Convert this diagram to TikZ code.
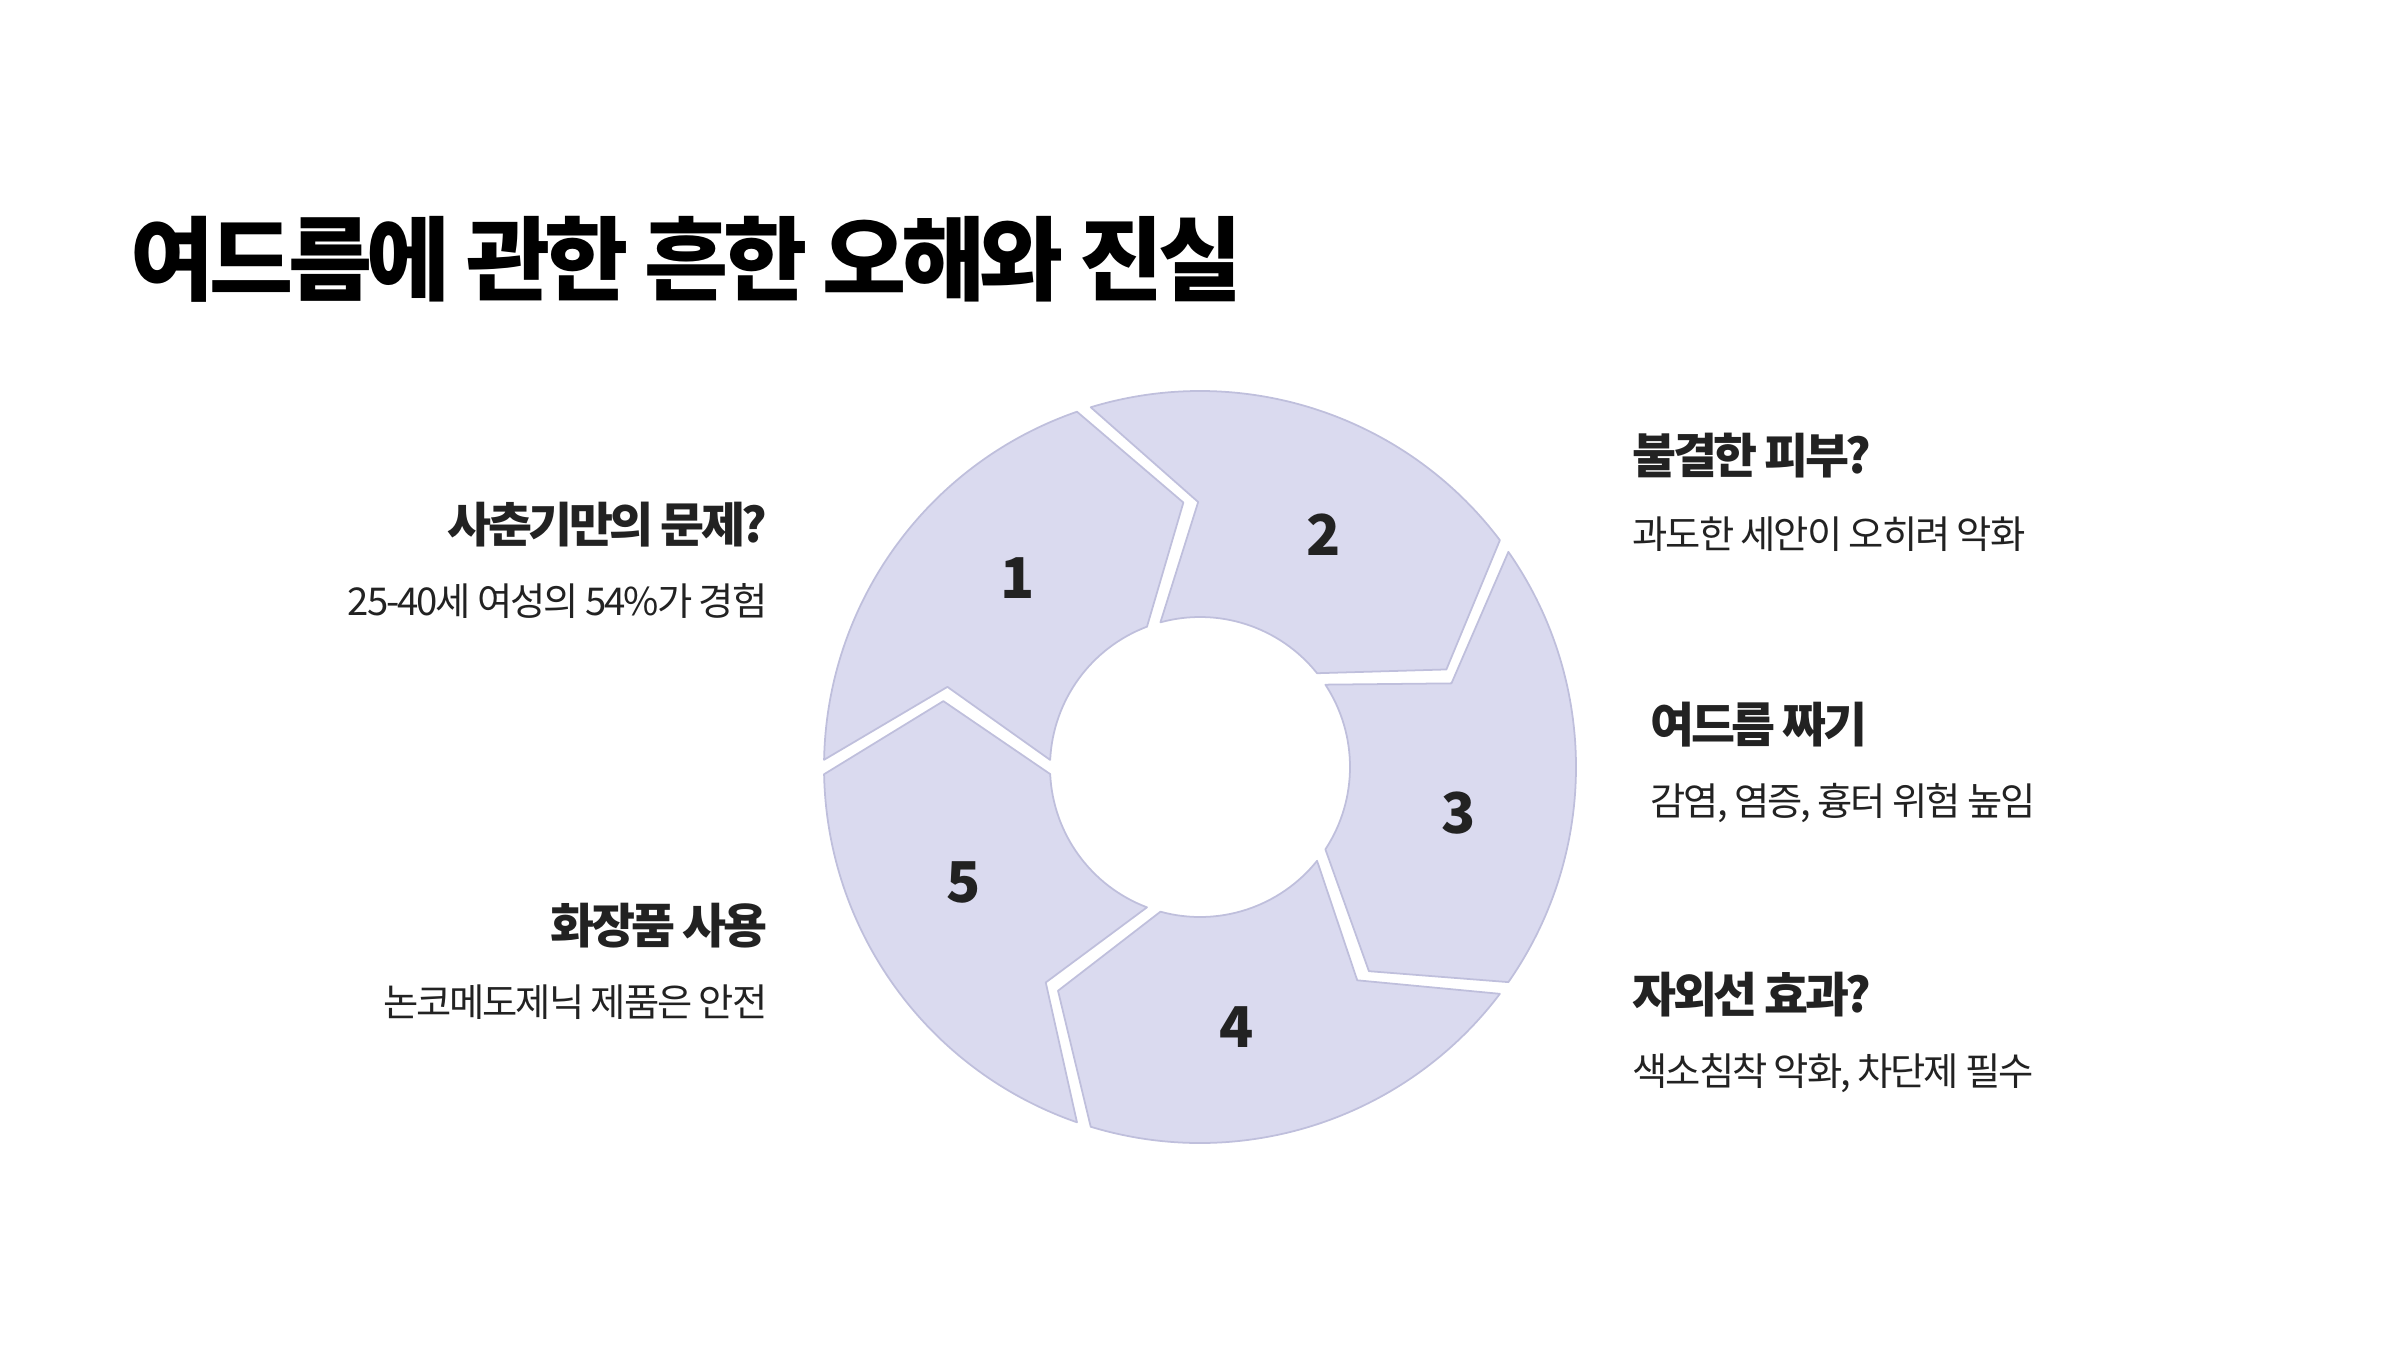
\documentclass[tikz,border=0pt]{standalone}
\usepackage{fontspec}
\setmainfont{Noto Sans CJK KR}
\usetikzlibrary{calc}
\definecolor{lav}{HTML}{DADAEF}
\definecolor{lavline}{HTML}{BFBFDC}
\definecolor{ink}{HTML}{222222}

\begin{document}
\begin{tikzpicture}[x=0.01cm, y=0.01cm, line join=round,
		seg/.style={fill=lav, draw=lavline, line width=0.5pt},
		num/.style={font=\bfseries\fontsize{16}{18}\selectfont, text=ink, inner sep=0},
		head/.style={font=\bfseries\fontsize{13.6}{16}\selectfont\addfontfeature{LetterSpace=-7.5}, text=ink, inner sep=0},
		body/.style={font=\fontsize{10.9}{14}\selectfont\addfontfeature{LetterSpace=-5.5}, text=ink, inner sep=0}]
				\useasboundingbox (0,0) rectangle (2400,1350);
				\coordinate (O) at (1200,583);
				\node[anchor=west, font=\bfseries\fontsize{26}{30}\selectfont\addfontfeature{LetterSpace=-6}, text=black, inner sep=0] (title) at (130,1091) {여드름에 관한 흔한 오해와 진실};
				\foreach \a/\n in {180/1,108/2,36/3,-36/4,-108/5}{
				\draw[seg] ($(O)+(\a-1.1:376)$) arc[start angle=\a-1.1, end angle=\a-70.9, radius=376]
				-- ($(O)+(\a-86.4:265)$) -- ($(O)+(\a-69.3:150)$)
				arc[start angle=\a-69.3, end angle=\a-2.7, radius=150]
				-- ($(O)+(\a-17.6:265)$) -- cycle;
				\node[num] (n\n) at ($(O)+(\a-46:263)$) {\n};
				}
				\foreach \y/\t/\s/\i in {825/사춘기만의 문제?/25-40세 여성의 54\%가 경험/1,424/화장품 사용/논코메도제닉 제품은 안전/5}{
				\node[head, anchor=east] (h\i) at (768,\y) {\t};
				\node[body, anchor=east] (b\i) at (768,\y-76) {\s};
				}
				\foreach \x/\y/\t/\s/\i in {1632/894/불결한 피부?/과도한 세안이 오히려 악화/2,1650/625/여드름 짜기/{감염, 염증, 흉터 위험 높임}/3,1632/355/자외선 효과?/{색소침착 악화, 차단제 필수}/4}{
				\node[head, anchor=west] (h\i) at (\x,\y) {\t};
				\node[body, anchor=west] (b\i) at (\x,\y-78) {\s};
				}
		\end{tikzpicture}
\end{document}
